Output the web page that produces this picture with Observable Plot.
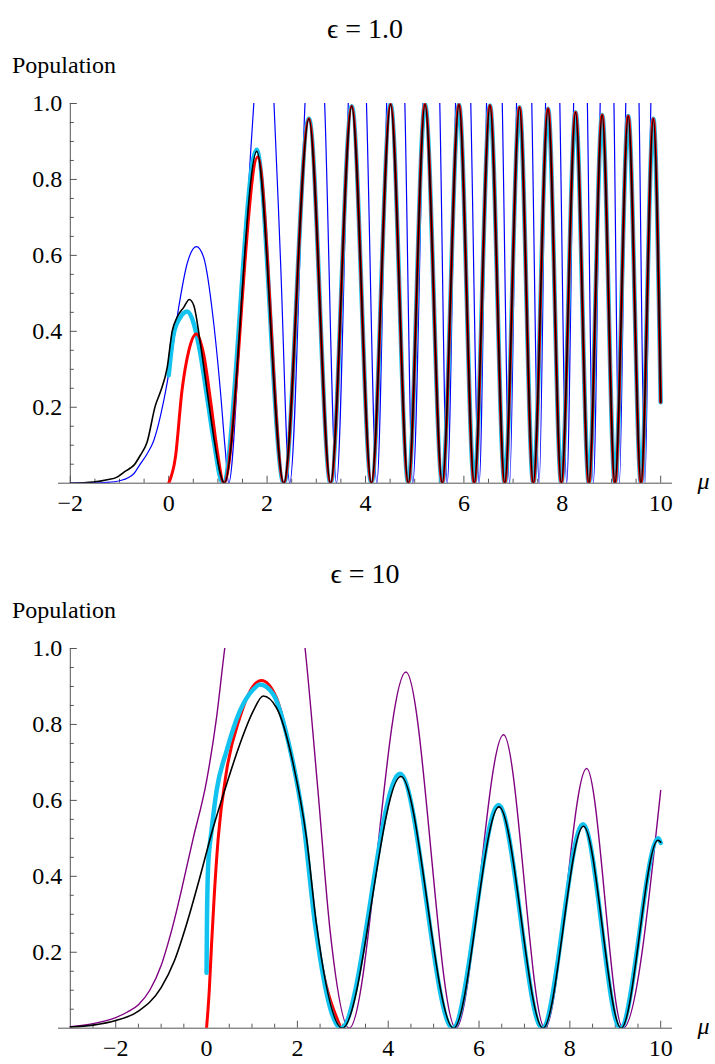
<!DOCTYPE html>
<html><head><meta charset="utf-8">
<script src="https://cdn.jsdelivr.net/npm/d3@7"></script>
<script src="https://cdn.jsdelivr.net/npm/@observablehq/plot@0.6"></script>
<style>
body{margin:0;background:#fff;}
#wrap{position:relative;width:715px;height:1064px;overflow:hidden;font-family:"Liberation Serif","Tinos","Times New Roman","DejaVu Serif",serif;color:#000;}
.panel{position:absolute;left:0;width:715px;height:545px;}
.title{position:absolute;left:0;width:730px;text-align:center;font-size:28px;line-height:28px;top:15px;white-space:nowrap;}
.ylab{position:absolute;left:12px;font-size:24px;line-height:24px;top:53px;}
</style></head>
<body><div id="wrap"></div>
<script>
// ---------- shared tick data ----------
const xTickVals = [-2, 0, 2, 4, 6, 8, 10];
const xTickLabels = ["\u22122", "0", "2", "4", "6", "8", "10"];
const yTickVals = [0.2, 0.4, 0.6, 0.8, 1.0];
const yTickLabels = ["0.2", "0.4", "0.6", "0.8", "1.0"];
const yMinorVals = [0.05,0.1,0.15,0.25,0.3,0.35,0.45,0.5,0.55,0.65,0.7,0.75,0.85,0.9,0.95];
const topMinorX = [-1.5,-1,-0.5,0.5,1,1.5,2.5,3,3.5,4.5,5,5.5,6.5,7,7.5,8.5,9,9.5];
const bottomMinorX = [-2.5,-1.5,-1,-0.5,0.5,1,1.5,2.5,3,3.5,4.5,5,5.5,6.5,7,7.5,8.5,9,9.5];

// ---------- panel 1 : epsilon = 1.0 ----------
const topBlueMu  = [-2,-1.5,-1.25,-0.98,-0.71,-0.576,-0.44,-0.305,-0.10,0.035,0.203,0.374,0.563,0.71,0.916,1.05,1.15,1.22,1.46,1.66,1.73,1.94,2.14,2.27,2.46,
  2.77,2.97,3.17,3.41, 3.65,3.835,4.02,4.23, 4.43,4.615,4.80,4.96, 5.17,5.34,5.51,5.66,
  5.83,5.985,6.14,6.31, 6.46,6.62,6.78,6.93, 7.07,7.225,7.38,7.53, 7.66,7.805,7.95,8.09,
  8.23,8.37,8.51,8.63, 8.77,8.91,9.05,9.16, 9.29,9.425,9.56,9.68, 9.80,10.0];
const topBluePop = [0,0.001,0.002,0.007,0.025,0.051,0.077,0.112,0.218,0.315,0.463,0.578,0.623,0.595,0.42,0.244,0.087,0,0.42,0.86,1.0,1.3,1.0,0.595,0,
  1,1.6,1,0, 1,1.8,1,0, 1,1.9,1,0, 1,2.0,1,0,
  1,2.0,1,0, 1,2.1,1,0, 1,2.1,1,0, 1,2.1,1,0,
  1,2.1,1,0, 1,2.1,1,0, 1,2.1,1,0, 1,2.0];

const topBlackHeadMu  = [-2,-1.53,-1.25,-1.05,-0.92,-0.78,-0.71,-0.58,-0.44,-0.27,-0.17,-0.03,0.07,0.17,0.305,0.42,0.51,0.645,0.78,0.916,1.05,1.13,1.79];
const topBlackHeadPop = [0,0.003,0.009,0.016,0.028,0.04,0.047,0.073,0.108,0.205,0.24,0.305,0.40,0.437,0.463,0.484,0.468,0.367,0.244,0.121,0.025,0,0.874];
const topRedHeadMu  = [0,0.136,0.27,0.41,0.56,0.71,0.85,0.985,1.12,1.81];
const topRedHeadPop = [0,0.068,0.244,0.35,0.393,0.34,0.218,0.087,0,0.859];
const topCyanHeadMu  = [0,0.10,0.238,0.374,0.51,0.645,0.78,0.916,1.10,1.785];
const topCyanHeadPop = [0.284,0.393,0.437,0.452,0.42,0.34,0.227,0.112,0,0.878];
// common oscillating tail of red / cyan / black
const topTailMu  = [2.34,2.85,3.29,3.72,4.12,4.51,4.87,5.21,5.56,5.90,6.21,6.53,6.83,7.13,7.41,7.71,7.98,8.27,8.54,8.81,9.07,9.34,9.60,9.85,10.0];
const topTailPop = [0,0.96,0,0.993,0,0.998,0,0.998,0,0.997,0,0.995,0,0.99,0,0.986,0,0.977,0,0.970,0,0.967,0,0.96,0.213];

// ---------- panel 2 : epsilon = 10 ----------
const botPurpleMu  = [-3,-2.5,-2,-1.75,-1.5,-1.25,-1.0,-0.77,-0.29,0,0.22,0.40,1.28,2.17,2.45,2.72,3.14,4.39,5.49,6.54,7.45,8.37,9.17,10.0];
const botPurplePop = [0.004,0.012,0.028,0.042,0.062,0.1,0.165,0.257,0.502,0.651,0.818,1.0,1.5,1.0,0.63,0.257,0,0.938,0,0.773,0,0.684,0,0.626];
const botRedMu  = [0,0.06,0.11,0.17,0.256,0.44,0.733,1.027,1.21,1.54,1.83,2.13,2.39,2.96];
const botRedPop = [0,0.1,0.22,0.35,0.5,0.677,0.818,0.901,0.916,0.87,0.737,0.543,0.272,0];
const botCyanMu  = [0,0.008,0.037,0.11,0.22,0.44,0.733,1.027,1.174,1.47,1.83,2.13,2.39,2.96,4.26,5.42,6.43,7.39,8.29,9.11,9.95,10.0];
const botCyanPop = [0.146,0.27,0.432,0.52,0.625,0.73,0.835,0.892,0.905,0.879,0.739,0.546,0.274,0,0.67,0,0.588,0,0.537,0,0.50,0.488];
const botBlackMu  = [-3,-2.5,-2,-1.5,-1.0,-0.71,-0.44,-0.148,0.146,0.44,0.733,1.027,1.247,1.54,1.91,2.20,2.42,2.99,4.28,5.44,6.44,7.41,8.30,9.13,9.94,10.0];
const botBlackPop = [0.003,0.008,0.02,0.045,0.107,0.177,0.274,0.397,0.528,0.642,0.748,0.835,0.875,0.844,0.695,0.502,0.274,0,0.663,0,0.583,0,0.532,0,0.495,0.49];

const AX = "#555";
const FONT = "'Liberation Serif','Tinos','Times New Roman','DejaVu Serif',serif";
const pts = (mu, pop) => mu.map((m, i) => ({mu: m, pop: pop[i]}));

function makePanel(top, title, xDomain, yAxisAt, minorX, series) {
  const panel = document.createElement("div");
  panel.className = "panel";
  panel.style.top = top + "px";
  const t = document.createElement("div");
  t.className = "title"; t.textContent = title;
  const yl = document.createElement("div");
  yl.className = "ylab"; yl.textContent = "Population";
  panel.append(t, yl);
  const lines = series.map(s => Plot.line(pts(s.mu, s.pop), {x: "mu", y: "pop", stroke: s.color, strokeWidth: s.w, curve: "monotone-x", clip: true}));
  const svg = Plot.plot({
    width: 715, height: 440,
    marginLeft: 58, marginRight: 43, marginTop: 18, marginBottom: 42.3,
    x: {domain: xDomain, axis: null},
    y: {domain: [0, 1], axis: null},
    style: {fontFamily: FONT, fontSize: "24px", background: "transparent", overflow: "visible"},
    marks: [
      Plot.ruleY([0], {stroke: AX, strokeWidth: 1}),
      Plot.ruleX([yAxisAt], {y1: 0, y2: 1, stroke: AX, strokeWidth: 1}),
      Plot.ruleX(xTickVals, {x: d => d, y1: 0, y2: 0, insetTop: 0, insetBottom: 7, stroke: AX}),
      Plot.ruleX(minorX, {x: d => d, y1: 0, y2: 0, insetTop: 0, insetBottom: 4, stroke: AX}),
      Plot.ruleY(yTickVals, {y: d => d, x1: yAxisAt, x2: yAxisAt, insetLeft: 0, insetRight: -7, stroke: AX}),
      Plot.ruleY(yMinorVals, {y: d => d, x1: yAxisAt, x2: yAxisAt, insetLeft: 0, insetRight: -4, stroke: AX}),
      ...lines,
      Plot.text(xTickVals, {x: d => d, y: 0, text: (d, i) => xTickLabels[i], dy: 20, fontSize: 24, fill: "#000"}),
      Plot.text(yTickVals, {x: yAxisAt, y: d => d, text: (d, i) => yTickLabels[i], dx: -8, textAnchor: "end", fontSize: 24, fill: "#000"}),
      Plot.text(["\u03bc"], {x: xDomain[1], y: 0, text: d => d, dx: 25, dy: -2, textAnchor: "start", fontStyle: "italic", fontSize: 24, fill: "#000"})
    ]
  });
  svg.style.position = "absolute";
  svg.style.left = "0px";
  svg.style.top = "85px";
  panel.append(svg);
  document.getElementById("wrap").append(panel);
}

makePanel(0, "\u03f5 = 1.0", [-2.24, 10.24], -2, topMinorX, [
  {mu: topBlueMu, pop: topBluePop, color: "#0000ff", w: 1.2},
  {mu: topCyanHeadMu.concat(topTailMu), pop: topCyanHeadPop.concat(topTailPop), color: "#12c3ef", w: 4.5},
  {mu: topRedHeadMu.concat(topTailMu), pop: topRedHeadPop.concat(topTailPop), color: "#ff0000", w: 3},
  {mu: topBlackHeadMu.concat(topTailMu), pop: topBlackHeadPop.concat(topTailPop), color: "#000000", w: 1.6}
]);

makePanel(545, "\u03f5 = 10", [-3.26, 10.26], -3, bottomMinorX, [
  {mu: botPurpleMu, pop: botPurplePop, color: "#800080", w: 1.4},
  {mu: botRedMu, pop: botRedPop, color: "#ff0000", w: 3},
  {mu: botCyanMu, pop: botCyanPop, color: "#12c3ef", w: 4.5},
  {mu: botBlackMu, pop: botBlackPop, color: "#000000", w: 1.6}
]);
</script></body></html>
